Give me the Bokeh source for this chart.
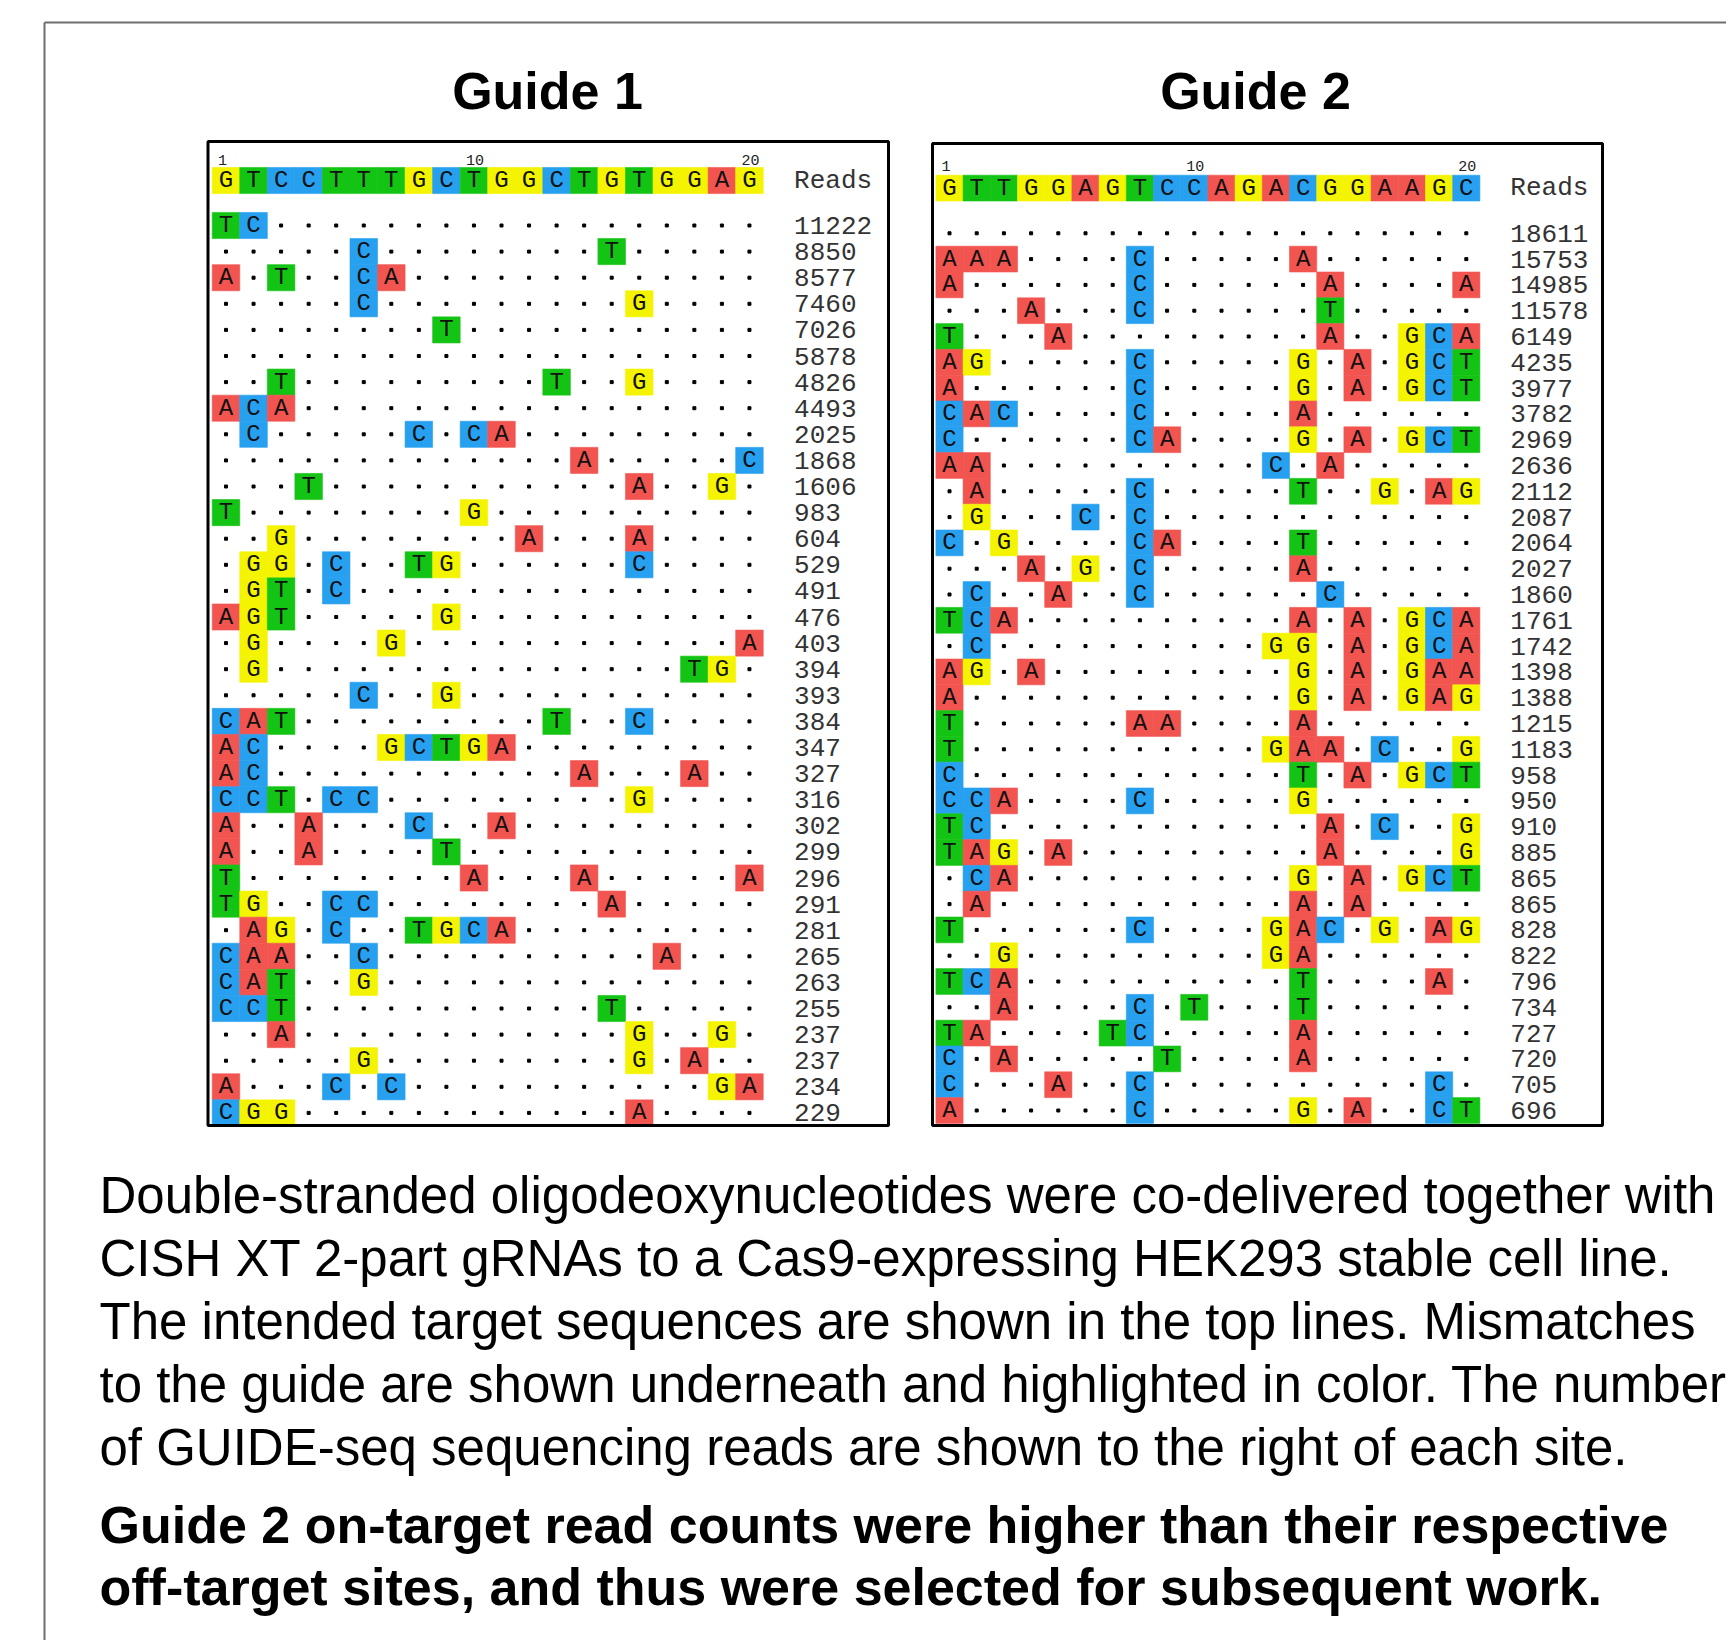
from bokeh.plotting import figure
from bokeh.models import Range1d, ColumnDataSource
from bokeh.embed import file_html
from bokeh.resources import INLINE
from bokeh.core.properties import value

# ---------------- data ----------------
g1_ref = "GTCCTTTGCTGGCTGTGGAG"
g1_sites = [
    "TC..................", ".....C........T.....", "A.T..CA.............", ".....C.........G....",
    "........T...........", "....................", "..T.........T..G....", "ACA.................",
    ".C.....C.CA.........", ".............A.....C", "...T...........A..G.", "T........G..........",
    "..G........A...A....", ".GG.C..TG......C....", ".GT.C...............", "AGT.....G...........",
    ".G....G............A", ".G...............TG.", ".....C..G...........", "CAT.........T..C....",
    "AC....GCTGA.........", "AC...........A...A..", "CCT.CC.........G....", "A..A...C..A.........",
    "A..A....T...........", "T........A...A.....A", "TG..CC........A.....", ".AG.C..TGCA.........",
    "CAA..C..........A...", "CAT..G..............", "CCT...........T.....", "..A............G..G.",
    ".....G.........G.A..", "A...C.C...........GA", "CGG............A....",
]
g1_reads = [11222, 8850, 8577, 7460, 7026, 5878, 4826, 4493, 2025, 1868, 1606, 983, 604, 529,
            491, 476, 403, 394, 393, 384, 347, 327, 316, 302, 299, 296, 291, 281, 265, 263,
            255, 237, 237, 234, 229]

g2_ref = "GTTGGAGTCCAGACGGAAGC"
g2_sites = [
    "....................", "AAA....C.....A......", "A......C......A....A", "...A...C......T.....",
    "T...A.........A..GCA", "AG.....C.....G.A.GCT", "A......C.....G.A.GCT", "CAC....C.....A......",
    "C......CA....G.A.GCT", "AA..........C.A.....", ".A.....C.....T..G.AG", ".G...C.C............",
    "C.G....CA....T......", "...A.G.C.....A......", ".C..A..C......C.....", "TCA..........A.A.GCA",
    ".C..........GG.A.GCA", "AG.A.........G.A.GAA", "A............G.A.GAG", "T......AA....A......",
    "T...........GAA.C..G", "C............T.A.GCT", "CCA....C.....G......", "TC............A.C..G",
    "TAG.A.........A....G", ".CA..........G.A.GCT", ".A...........A.A....", "T......C....GAC.G.AG",
    "..G.........GA......", "TCA..........T....A.", "..A....C.T...T......", "TA....TC.....A......",
    "C.A.....T....A......", "C...A..C..........C.", "A......C.....G.A..CT",
]
g2_reads = [18611, 15753, 14985, 11578, 6149, 4235, 3977, 3782, 2969, 2636, 2112, 2087, 2064,
            2027, 1860, 1761, 1742, 1398, 1388, 1215, 1183, 958, 950, 910, 885, 865, 865, 828,
            822, 796, 734, 727, 720, 705, 696]

pos_labels = ["1", "10", "20"]
pos_cols = [1, 10, 20]
titles = ["Guide 1", "Guide 2"]

para_lines = [
    "Double-stranded oligodeoxynucleotides were co-delivered together with",
    "CISH XT 2-part gRNAs to a Cas9-expressing HEK293 stable cell line.",
    "The intended target sequences are shown in the top lines. Mismatches",
    "to the guide are shown underneath and highlighted in color. The number",
    "of GUIDE-seq sequencing reads are shown to the right of each site.",
]
bold_lines = [
    "Guide 2 on-target read counts were higher than their respective",
    "off-target sites, and thus were selected for subsequent work.",
]

base_colors = {"A": "#f25450", "C": "#26a0ef", "G": "#f4f400", "T": "#14c414"}

# ---------------- layout ----------------
W, H = 1726, 1640
OFF = 0
MONO = value("Liberation Mono")
SANS = value("Liberation Sans")

p = figure(width=W, height=H, x_range=Range1d(OFF, OFF + W), y_range=Range1d(OFF + H, OFF),
           output_backend="svg", toolbar_location=None, min_border=0,
           x_axis_location=None, y_axis_location=None)
p.grid.visible = False
p.outline_line_color = None
p.background_fill_color = "white"
p.border_fill_color = "white"

# page frame (grey)
p.segment(x0=[44, 44], y0=[22, 22], x1=[1745, 44], y1=[22, 1660], line_color="#6e6e6e", line_width=2)

panels = [
    dict(name="g1", ref=g1_ref, sites=g1_sites, reads=g1_reads, title=titles[0],
         x0=225.5, dx=27.55, y0=225.0, dy=26.1, num_y=159.0, ref_y=180.0,
         box=(207.5, 888.0, 141.0, 1125.0), title_x=547.0),
    dict(name="g2", ref=g2_ref, sites=g2_sites, reads=g2_reads, title=titles[1],
         x0=949.0, dx=27.2, y0=232.8, dy=25.8, num_y=165.5, ref_y=187.6,
         box=(932.0, 1602.0, 143.0, 1125.0), title_x=1255.0),
]

xr, yr = {}, {}
for P in panels:
    sx = 1 - (P["x0"] - OFF) / P["dx"]
    ey = -(P["y0"] - OFF) / P["dy"]
    xr[P["name"]] = Range1d(sx, sx + W / P["dx"])
    yr[P["name"]] = Range1d(ey + H / P["dy"], ey)
p.extra_x_ranges = xr
p.extra_y_ranges = yr

for P in panels:
    n = P["name"]
    kw = dict(x_range_name=n, y_range_name=n)
    ref_r = (P["ref_y"] - P["y0"]) / P["dy"]
    num_r = (P["num_y"] - P["y0"]) / P["dy"]

    cx, cy, cl, cc, dxs, dys = [], [], [], [], [], []
    for j, ch in enumerate(P["ref"]):
        cx.append(j + 1); cy.append(ref_r); cl.append(ch); cc.append(base_colors[ch])
    for i, s in enumerate(P["sites"]):
        for j, ch in enumerate(s):
            if ch == ".":
                dxs.append(j + 1); dys.append(i)
            else:
                cx.append(j + 1); cy.append(i); cl.append(ch); cc.append(base_colors[ch])
    cells = ColumnDataSource(dict(x=cx, y=cy, t=cl, c=cc))
    p.rect(x="x", y="y", width=1, height=1, fill_color="c", line_color="c", line_width=0.6,
           source=cells, **kw)
    p.text(x="x", y="y", text="t", source=cells, text_font=MONO, text_font_size="24px",
           text_align="center", text_baseline="middle", text_color="#111111", **kw)
    p.scatter(x=dxs, y=dys, marker="square", size=3, color="black", **kw)

    # position numbers
    p.text(x=pos_cols, y=[num_r] * len(pos_cols), text=pos_labels, x_offset=-8,
           text_font=MONO, text_font_size="15px", text_align="left", text_baseline="middle",
           text_color="#222222", **kw)
    # reads
    rows = list(range(len(P["reads"])))
    p.text(x=[21.62] * len(rows), y=rows, text=[str(v) for v in P["reads"]],
           text_font=MONO, text_font_size="26px", text_align="left", text_baseline="middle",
           text_color="#333333", **kw)
    p.text(x=[21.62], y=[ref_r], text=["Reads"], text_font=MONO, text_font_size="26px",
           text_align="left", text_baseline="middle", text_color="#333333", **kw)

    # panel frame
    l, r, t, b = P["box"]
    p.quad(left=[l], right=[r], top=[t], bottom=[b], fill_color=None, line_color="black", line_width=3)
    # title
    p.text(x=[P["title_x"]], y=[90], text=[P["title"]], text_font=SANS, text_font_size="52px",
           text_font_style="bold", text_align="center", text_baseline="middle", text_color="black")

# paragraph
para_y = [1195 + 63 * k for k in range(len(para_lines))]
p.text(x=[99] * len(para_lines), y=para_y, text=para_lines, text_font=SANS, text_font_size="51px",
       text_align="left", text_baseline="middle", text_color="black")
bold_y = [1524 + 62 * k for k in range(len(bold_lines))]
p.text(x=[99] * len(bold_lines), y=bold_y, text=bold_lines, text_font=SANS, text_font_size="52px",
       text_font_style="bold", text_align="left", text_baseline="middle", text_color="black")

open("out.html", "w").write(file_html(p, INLINE))
